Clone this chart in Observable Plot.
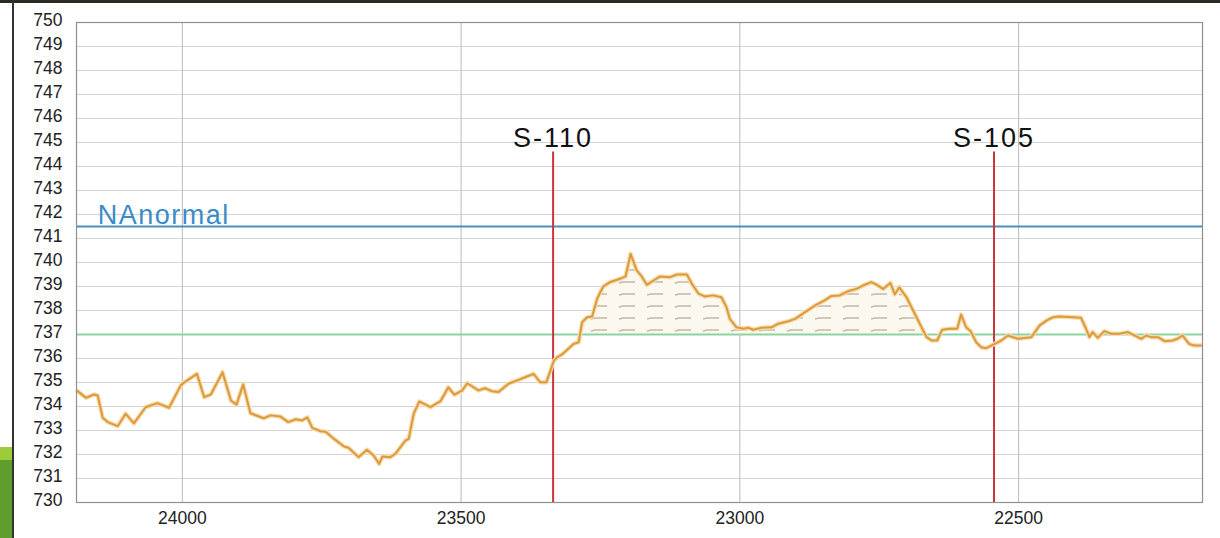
<!DOCTYPE html>
<html><head><meta charset="utf-8">
<script src="https://cdn.jsdelivr.net/npm/d3@7"></script>
<script src="https://cdn.jsdelivr.net/npm/@observablehq/plot@0.6"></script>
<style>
html,body{margin:0;padding:0;background:#fff;}
#wrap{position:relative;width:1220px;height:538px;overflow:hidden;background:#fff;}
#chart{position:absolute;left:0;top:0;}
.deco-top{position:absolute;left:0;top:0;width:1220px;height:3px;background:#2b2b24;}
.deco-left{position:absolute;left:12px;top:0;width:2px;height:538px;background:#333;}
.deco-g1{position:absolute;left:0;top:447px;width:12px;height:13px;background:#9ccc3a;}
.deco-g2{position:absolute;left:0;top:460px;width:12px;height:78px;background:#5f9d2f;}
</style></head>
<body><div id="wrap"><div id="chart"></div><div class="deco-top"></div><div class="deco-left"></div><div class="deco-g1"></div><div class="deco-g2"></div></div>
<script>
// Chainage (m) along the profile and water level (m)
const chainage = [24188,24173,24159,24152,24143,24134,24116,24102,24087,24066,24045,24024,24003,23994,23974,23961,23949,23928,23913,23903,23891,23878,23854,23842,23824,23810,23797,23785,23776,23767,23752,23743,23728,23710,23702,23684,23669,23657,23647,23641,23627,23618,23600,23594,23585,23575,23555,23537,23523,23512,23498,23489,23469,23457,23445,23433,23415,23397,23382,23370,23358,23347,23334,23328,23319,23298,23289,23283,23274,23265,23256,23245,23233,23215,23205,23196,23185,23176,23167,23155,23143,23125,23113,23095,23086,23074,23062,23048,23033,23024,23018,23006,22994,22985,22976,22961,22943,22931,22913,22901,22883,22865,22848,22836,22821,22806,22791,22779,22764,22755,22743,22730,22722,22714,22701,22683,22665,22656,22646,22637,22624,22610,22603,22594,22586,22576,22567,22558,22549,22540,22531,22519,22501,22489,22477,22462,22450,22438,22427,22403,22388,22379,22373,22367,22358,22346,22334,22319,22304,22292,22280,22271,22262,22250,22238,22224,22215,22206,22194,22185,22173];
const elevation = [734.64,734.36,734.50,734.46,733.53,733.35,733.18,733.70,733.30,733.97,734.14,733.95,734.88,735.05,735.36,734.39,734.50,735.43,734.25,734.08,734.92,733.72,733.51,733.63,733.58,733.35,733.47,733.42,733.55,733.11,732.97,732.95,732.65,732.33,732.28,731.89,732.20,731.96,731.61,731.92,731.89,732.03,732.58,732.65,733.70,734.21,733.97,734.22,734.80,734.49,734.67,734.97,734.67,734.76,734.64,734.60,734.95,735.11,735.25,735.36,735.01,735.01,735.89,736.05,736.17,736.61,736.68,737.51,737.72,737.75,738.49,739.00,739.18,739.32,739.42,740.36,739.67,739.42,739.07,739.25,739.42,739.39,739.50,739.50,739.11,738.70,738.58,738.63,738.55,738.14,737.65,737.30,737.24,737.28,737.20,737.28,737.30,737.45,737.55,737.65,737.93,738.21,738.42,738.60,738.63,738.80,738.90,739.04,739.18,739.08,738.90,739.15,738.67,738.97,738.55,737.72,736.89,736.75,736.75,737.20,737.24,737.24,737.83,737.30,737.14,736.68,736.47,736.43,736.54,736.64,736.75,736.96,736.82,736.85,736.89,737.38,737.58,737.72,737.75,737.72,737.70,737.24,736.89,737.10,736.86,737.14,737.03,737.03,737.10,736.96,736.82,736.96,736.89,736.89,736.72,736.75,736.82,736.96,736.61,736.54,736.54];
const yTicks = [730,731,732,733,734,735,736,737,738,739,740,741,742,743,744,745,746,747,748,749,750];
const xTicks = [24000,23500,23000,22500];
const stations = ["S-110","S-105"];
const stationChainage = [23335,22544];
const stationTop = 744.6;
const normalLevel = 741.5;
const normalLabel = "NAnormal";
const baseLevel = 737;
const hatchFrom = 23290, hatchTo = 22662;

const data = chainage.map((c,i)=>({c, e: elevation[i]}));
const hatchData = data.filter(d => d.c <= hatchFrom && d.c >= hatchTo);

const chart = Plot.plot({
  width: 1220,
  height: 538,
  marginLeft: 76,
  marginRight: 18,
  marginTop: 22,
  marginBottom: 36,
  style: {fontFamily: "'Liberation Sans', Arial, sans-serif", background: "transparent", fontSize: "17px"},
  x: {domain: [24190, 22170], label: null},
  y: {domain: [730, 750], label: null},
  marks: [
    Plot.gridY(yTicks, {stroke: "#d4d4d4", strokeOpacity: 1, strokeWidth: 1.2}),
    Plot.gridX(xTicks, {stroke: "#c4c4c4", strokeOpacity: 1, strokeWidth: 1.2}),
    Plot.areaY(hatchData, {x: "c", y1: d => baseLevel, y2: d => Math.max(d.e, baseLevel), fill: "url(#hatch)"}),
    Plot.ruleY([baseLevel], {stroke: "#8dd3a0", strokeWidth: 2}),
    Plot.ruleY([normalLevel], {stroke: "#4a8fbd", strokeWidth: 2}),
    Plot.ruleX(stationChainage, {y1: 730, y2: stationTop, stroke: "#c9343e", strokeWidth: 2}),
    Plot.line(data, {x: "c", y: "e", stroke: "#f6dcae", strokeWidth: 4.5}),
    Plot.line(data, {x: "c", y: "e", stroke: "#dc9a3c", strokeWidth: 2}),
    Plot.text(stations, {x: (d,i) => stationChainage[i], y: stationTop, text: d => d, dy: -5, lineAnchor: "bottom", fontSize: 27, fill: "#111", style: "letter-spacing:2px"}),
    Plot.text([normalLabel], {x: 24152, y: normalLevel, text: d => d, textAnchor: "start", lineAnchor: "bottom", dy: -3, fontSize: 27, fill: "#3a8cc6", style: "letter-spacing:1.5px"}),
    Plot.frame({stroke: "#8f8f8f", strokeWidth: 1.2}),
    Plot.axisY(yTicks, {tickSize: 0, tickPadding: 14, fontSize: 17.5, fill: "#222", dy: -2, tickFormat: d => String(d), label: null}),
    Plot.axisX(xTicks, {tickSize: 0, tickPadding: 9, fontSize: 17.5, fill: "#222", tickFormat: d => String(d), label: null})
  ]
});
d3.select(chart).selectAll("g[aria-label='text'] text").style("letter-spacing", null);
d3.select(chart).insert("defs", ":first-child").html(
  '<pattern id="hatch" width="28" height="12" patternUnits="userSpaceOnUse">' +
  '<rect width="28" height="12" fill="#fbf8ef"/>' +
  '<path d="M3 7 L7 6 L19 6" stroke="#c2baa8" stroke-width="1.3" fill="none"/></pattern>');
// letter spacing on the label texts
const textGroups = d3.select(chart).selectAll("g[aria-label='text']").nodes();
if (textGroups[0]) d3.select(textGroups[0]).style("letter-spacing", "2px");
if (textGroups[1]) d3.select(textGroups[1]).style("letter-spacing", "1.5px");
document.getElementById("chart").appendChild(chart);
</script>
</body></html>
